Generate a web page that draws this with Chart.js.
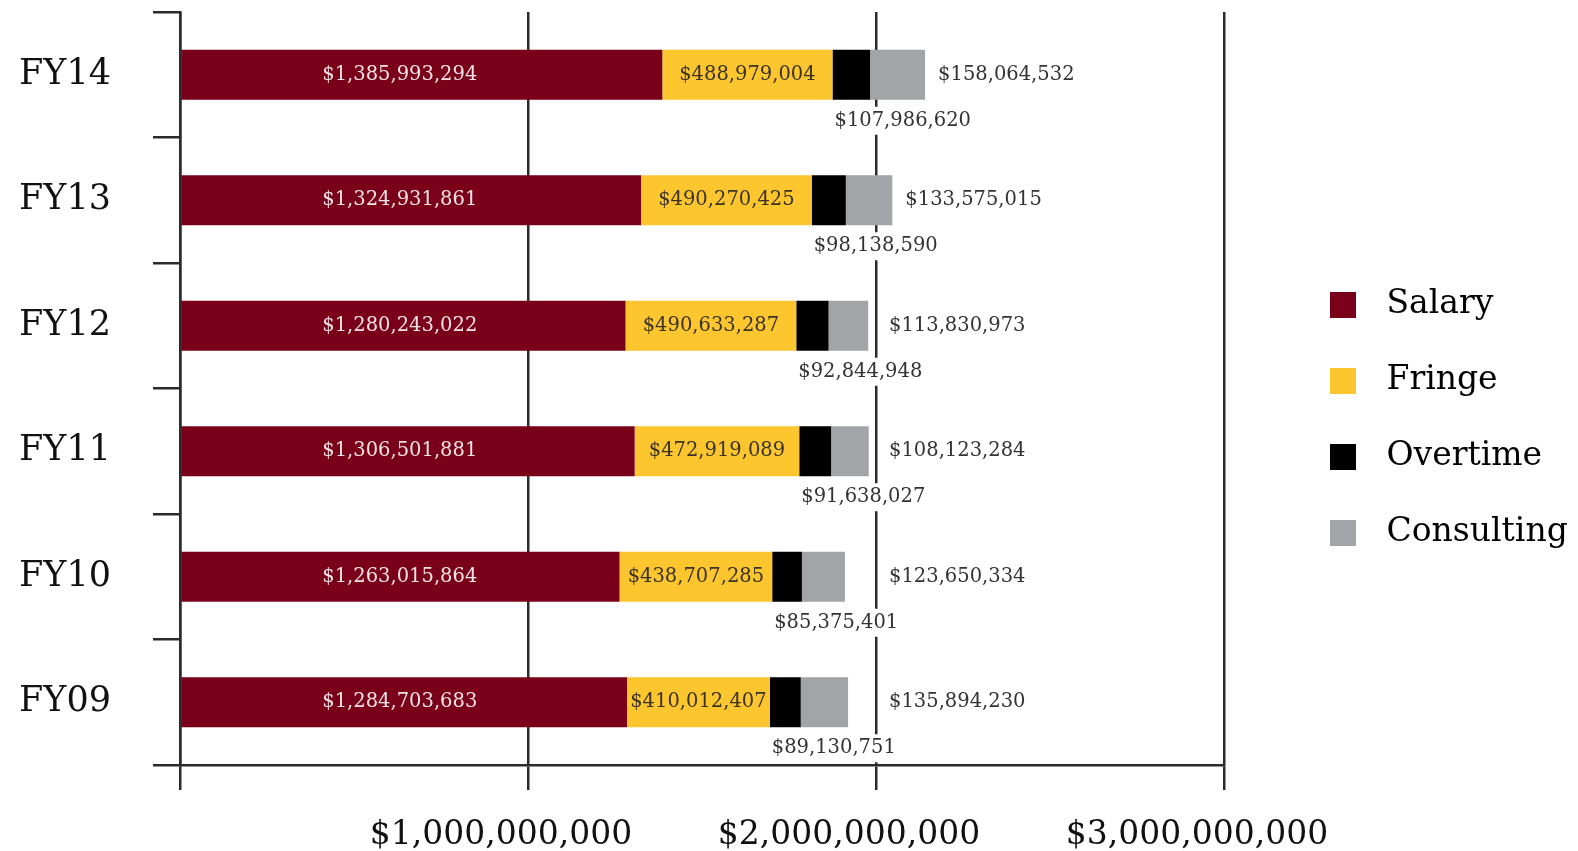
<!DOCTYPE html>
<html>
<head>
<meta charset="utf-8">
<script src="https://cdn.jsdelivr.net/npm/chart.js@4.4.1/dist/chart.umd.min.js"></script>
<style>
  body { margin: 0; background: #fff; }
  canvas { display: block; }
</style>
</head>
<body>
<canvas id="payrollChart" width="1578" height="851"></canvas>
<script>
// ======= DONNEES =======
const years = ['FY14', 'FY13', 'FY12', 'FY11', 'FY10', 'FY09'];
const salary = [1385993294, 1324931861, 1280243022, 1306501881, 1263015864, 1284703683];
const fringe = [488979004, 490270425, 490633287, 472919089, 438707285, 410012407];
const overtime = [107986620, 98138590, 92844948, 91638027, 85375401, 89130751];
const consulting = [158064532, 133575015, 113830973, 108123284, 123650334, 135894230];
const xTickLabels = ['', '$1,000,000,000', '$2,000,000,000', '$3,000,000,000'];

const SERIF = '"DejaVu Serif", serif';
const AXIS = '#2b2b2b';

function money(v) {
  return '$' + v.toLocaleString('en-US');
}

// petit carre pour la legende
function swatch(color) {
  const c = document.createElement('canvas');
  c.width = 26; c.height = 26;
  const g = c.getContext('2d');
  g.fillStyle = color;
  g.fillRect(0, 0, 26, 26);
  return c;
}

// ======= ETIQUETTES DES VALEURS =======
const valueLabels = {
  id: 'valueLabels',
  afterDatasetsDraw(chart) {
    const ctx = chart.ctx;
    const xs = chart.scales.x;
    const salaryX = xs.getPixelForValue(Math.min(...salary) / 2);
    const lineX = xs.getPixelForValue(2000000000);
    ctx.save();
    ctx.font = '19.5px ' + SERIF;
    ctx.textBaseline = 'middle';
    years.forEach((y, j) => {
      const fr = chart.getDatasetMeta(1).data[j];
      const ot = chart.getDatasetMeta(2).data[j];
      const co = chart.getDatasetMeta(3).data[j];

      ctx.textAlign = 'center';
      ctx.fillStyle = '#f3e3e5';
      ctx.fillText(money(salary[j]), salaryX, fr.y);

      ctx.fillStyle = '#3a3326';
      ctx.fillText(money(fringe[j]), (fr.base + fr.x) / 2, fr.y);

      ctx.textAlign = 'left';
      let t = money(overtime[j]);
      let w = ctx.measureText(t).width;
      const ox = ot.base + 2, oy = ot.y + 46;
      ctx.fillStyle = '#fff';
      ctx.fillRect(ox - 2, oy - 14, w + 4, 28);
      ctx.fillStyle = '#333';
      ctx.fillText(t, ox, oy);

      t = money(consulting[j]);
      w = ctx.measureText(t).width;
      const cx = Math.max(co.x, lineX) + 13;
      ctx.fillStyle = '#fff';
      ctx.fillRect(cx - 2, co.y - 14, w + 4, 28);
      ctx.fillStyle = '#333';
      ctx.fillText(t, cx, co.y);
    });
    ctx.restore();
  }
};

// ======= PLACEMENT DE LA LEGENDE =======
const legendSpot = {
  id: 'legendSpot',
  beforeLayout(chart) {
    const lg = chart.legend;
    if (lg && !lg._wide) {
      const fit = lg.fit;
      lg.fit = function () { fit.call(this); this.width = 354; };
      lg._wide = true;
    }
  },
  afterLayout(chart) {
    const lg = chart.legend;
    lg.left += 49;
    lg.right = chart.width;
    lg.top -= 13;
    lg.bottom -= 13;
  }
};

const colors = ['#7a0019', '#fdc62e', '#000000', '#a2a4a7'];

new Chart(document.getElementById('payrollChart'), {
  type: 'bar',
  data: {
    labels: years,
    datasets: [
      { label: 'Salary', data: salary, backgroundColor: colors[0] },
      { label: 'Fringe', data: fringe, backgroundColor: colors[1] },
      { label: 'Overtime', data: overtime, backgroundColor: colors[2] },
      { label: 'Consulting', data: consulting, backgroundColor: colors[3] }
    ]
  },
  options: {
    indexAxis: 'y',
    responsive: false,
    animation: false,
    datasets: { bar: { categoryPercentage: 1, barPercentage: 0.4 } },
    layout: { padding: { top: 12, right: 0, bottom: 0, left: 0 } },
    scales: {
      x: {
        stacked: true,
        min: 0,
        max: 3000000000,
        ticks: {
          stepSize: 1000000000,
          color: '#111',
          font: { family: SERIF, size: 33 },
          padding: 26,
          labelOffset: -27,
          maxRotation: 0,
          callback: (v, i) => xTickLabels[i]
        },
        grid: { color: AXIS, lineWidth: 2.5, tickLength: 25 },
        border: { color: AXIS, width: 2.5 },
        afterFit(s) { s.height = 86; s.paddingLeft = 0; s.paddingRight = 0; }
      },
      y: {
        stacked: true,
        ticks: { color: '#111', font: { family: SERIF, size: 35 }, padding: 42 },
        grid: { color: AXIS, lineWidth: 2.5, tickLength: 27, drawOnChartArea: false, offset: true },
        border: { color: AXIS, width: 2.5 },
        afterFit(s) { s.width = 180; s.paddingTop = 0; s.paddingBottom = 0; }
      }
    },
    plugins: {
      tooltip: { enabled: false },
      legend: {
        position: 'right',
        labels: {
          usePointStyle: true,
          pointStyleWidth: 54,
          padding: 43,
          color: '#111',
          font: { family: SERIF, size: 33 },
          generateLabels: chart => chart.data.datasets.map((ds, i) => ({
            text: ds.label,
            fillStyle: ds.backgroundColor,
            strokeStyle: ds.backgroundColor,
            lineWidth: 0,
            pointStyle: swatch(ds.backgroundColor),
            datasetIndex: i,
            hidden: false
          }))
        }
      }
    }
  },
  plugins: [valueLabels, legendSpot]
});
</script>
</body>
</html>
